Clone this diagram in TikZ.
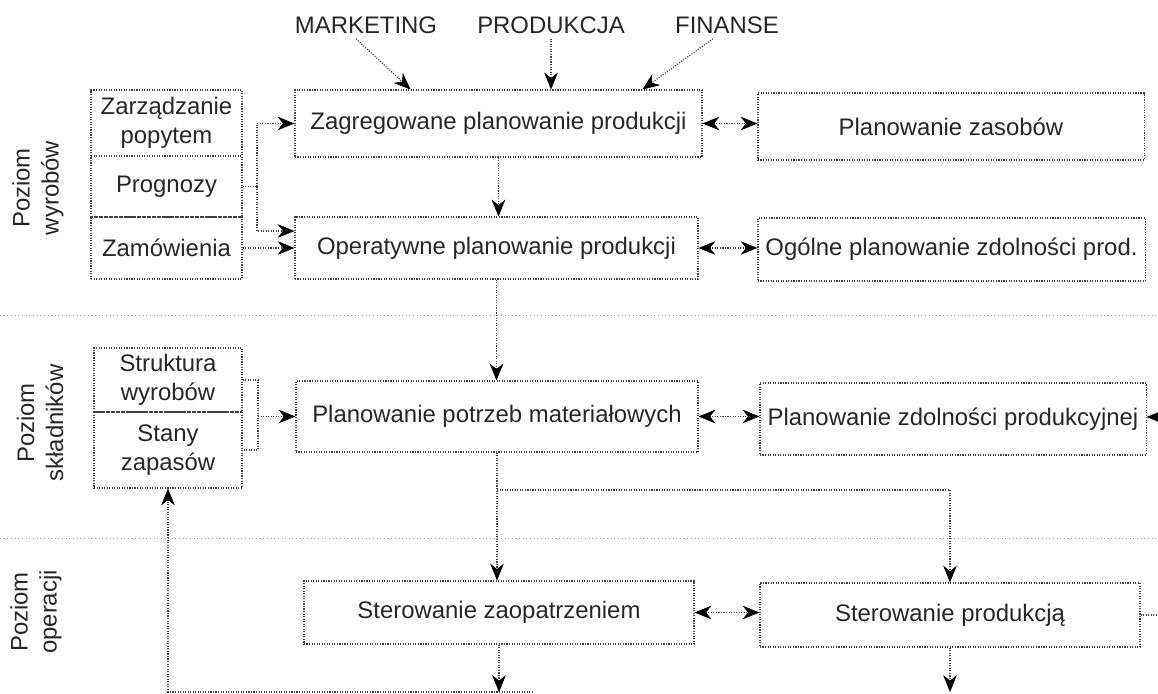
\documentclass[tikz,border=0pt]{standalone}
\usepackage{fontspec}
\setmainfont{Liberation Sans}
\usetikzlibrary{arrows.meta,positioning}

\begin{document}
\begin{tikzpicture}[
    x = 0.025cm, y = -0.025cm, % one unit per pixel, y runs down
    > = {Stealth[length=4.2mm,width=3.4mm,black,line width=0.4pt]}, % arrow head style
    font = \fontsize{17}{20.6}\selectfont,
    line width = 0.8pt % line style
    ]

    \tikzset{box/.style={
    draw = black!75,
    densely dotted,
    text = black!85,
    inner sep = 1pt,
    align = center
    },
    link/.style={draw = black!75, densely dotted},
    level/.style={rotate = 90, align = center, inner sep = 0pt, text = black!85},
    sep/.style={draw = black!40, dotted, line width = 0.6pt}
    }

    \useasboundingbox (0,0) rectangle (1158,694);

    % inputs
    \node[text = black!85] (marketing) at (366,25) {MARKETING};
    \node[text = black!85] (produkcja) at (551,25) {PRODUKCJA};
    \node[text = black!85] (finanse) at (727,25) {FINANSE};

    % level of products
    \node[box, minimum width = 10.175cm, minimum height = 1.675cm] (zagr) at (498.5,123.5) {Zagregowane planowanie produkcji};
    \node[box, minimum width = 9.65cm, minimum height = 1.675cm] (zasoby) at (951,126.5) {Planowanie zasobów};
    \node[box, minimum width = 10.075cm, minimum height = 1.55cm] (oper) at (496.5,248) {Operatywne planowanie produkcji};
    \node[box, minimum width = 9.675cm, minimum height = 1.575cm] (ogolne) at (951.5,249.5) {Ogólne planowanie zdolności prod.};
    \node[box, minimum width = 3.775cm, minimum height = 1.65cm] (popyt) at (166.5,123) {Zarządzanie\\popytem};
    \node[box, minimum width = 3.775cm, minimum height = 1.525cm] (prognozy) at (166.5,186.5) {Prognozy};
    \node[box, minimum width = 3.775cm, minimum height = 1.55cm] (zamow) at (166.5,248) {Zamówienia};

    % level of components
    \node[box, minimum width = 3.7cm, minimum height = 1.6cm] (struktura) at (168,380) {Struktura\\wyrobów};
    \node[box, minimum width = 3.7cm, minimum height = 1.9cm] (stany) at (168,450) {Stany\\zapasów};
    \node[box, minimum width = 10.05cm, minimum height = 1.775cm] (mrp) at (497,416.5) {Planowanie potrzeb materiałowych};
    \node[box, minimum width = 9.65cm, minimum height = 1.8cm] (zdolnosci) at (953,419) {Planowanie zdolności produkcyjnej};

    % level of operations
    \node[box, minimum width = 9.75cm, minimum height = 1.575cm] (zaopatrz) at (499,612.5) {Sterowanie zaopatrzeniem};
    \node[box, minimum width = 9.5cm, minimum height = 1.6cm] (sterprod) at (950,615) {Sterowanie produkcją};

    \node[level] (lvl1) at (38,188) {Poziom\\wyrobów};
    \node[level] (lvl2) at (40,423) {Poziom\\składników};
    \node[level] (lvl3) at (36,612) {Poziom\\operacji};

    % level borders
    \draw[sep] (0,315) -- (1158,315);
    \draw[sep] (0,538) -- (1158,538);

    \coordinate (fork) at (257,186.5);
    \coordinate (join) at (258,416.5);
    \coordinate (branch) at (497,490);
    \coordinate (out1) at (499,692);
    \coordinate (fb) at (533,692);
    \coordinate (out2) at (950,692);
    \coordinate (right1) at (1158,615);
    \coordinate (right2) at (1158,417);

    \draw[link,->] ([xshift=-0.25cm]marketing.south) -- ([xshift=-2.2cm]zagr.north);
    \draw[link,->] (produkcja.south) -- (produkcja.south |- zagr.north);
    \draw[link,->] ([xshift=-0.35cm]finanse.south) -- ([xshift=3.6cm]zagr.north);

    \draw[link,<->] (zagr.east) -- (zagr.east -| zasoby.west);
    \draw[link,<->] (oper.east) -- (oper.east -| ogolne.west);
    \draw[link,->] (zagr.south) -- (zagr.south |- oper.north);
    \draw[link] (prognozy.east) -- (fork);
    \draw[link,->] (fork) |- (zagr.west);
    \draw[link,->] (fork) |- ([yshift=0.425cm]oper.west);
    \draw[link,->] (zamow.east) -- (zamow.east -| oper.west);

    \draw[link,->] (oper.south) -- (oper.south |- mrp.north);
    \draw[link] (struktura.east) -| (join) |- (stany.east);
    \draw[link,->] (join) -- (join -| mrp.west);
    \draw[link,<->] (mrp.east) -- (mrp.east -| zdolnosci.west);
    \draw[link,->] (right2) -- (right2 -| zdolnosci.east);

    \draw[link,->] (mrp.south) -- (mrp.south |- zaopatrz.north);
    \draw[link,->] (branch) -| (sterprod.north);
    \draw[link,<->] (zaopatrz.east) -- (zaopatrz.east -| sterprod.west);
    \draw[link] (sterprod.east) -- (right1);
    \draw[link,->] (zaopatrz.south) -- (out1);
    \draw[link,->] (sterprod.south) -- (out2);
    \draw[link,->] (fb) -| (stany.south);
\end{tikzpicture}
\end{document}
